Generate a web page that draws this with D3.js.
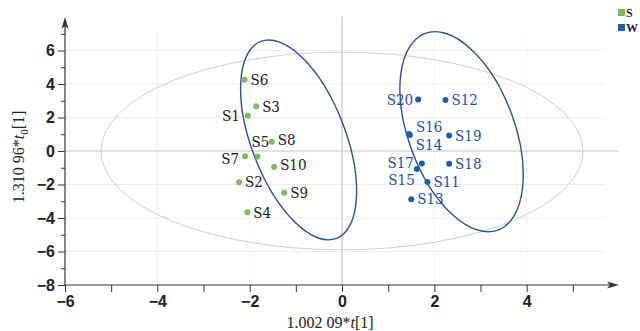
<!DOCTYPE html>
<html>
<head>
<meta charset="utf-8">
<script src="https://cdn.jsdelivr.net/npm/d3@7"></script>
<style>
  body { margin: 0; background: #fff; }
  svg { display: block; font-family: "Liberation Serif", "DejaVu Serif", serif; }
  .tick text { font-size: 16px; font-weight: bold; fill: #222; }
  .ptlabel { font-size: 15px; font-family: "DejaVu Serif Condensed", "DejaVu Serif", serif; }
</style>
</head>
<body>
<svg width="640" height="331"></svg>
<script>
// group S (green)
const sNames = ['S1', 'S2', 'S3', 'S4', 'S5', 'S6', 'S7', 'S8', 'S9', 'S10'];
const sX = [-2.04, -2.23, -1.86, -2.05, -1.83, -2.11, -2.10, -1.52, -1.25, -1.47];
const sY = [2.10, -1.86, 2.67, -3.66, -0.33, 4.26, -0.31, 0.55, -2.49, -0.96];

// group W (blue)
const wNames = ['S11', 'S12', 'S13', 'S14', 'S15', 'S16', 'S17', 'S18', 'S19', 'S20'];
const wX = [1.85, 2.24, 1.50, 1.47, 1.62, 1.45, 1.73, 2.32, 2.32, 1.65];
const wY = [-1.85, 3.04, -2.88, 0.95, -1.07, 1.01, -0.74, -0.76, 0.92, 3.08];

const xTicks = [-6, -4, -2, 0, 2, 4];
const xMinor = [-5, -3, -1, 1, 3, 5];
const yTicks = [-8, -6, -4, -2, 0, 2, 4, 6];
const yMinor = [-7, -5, -3, -1, 1, 3, 5, 7];

// ellipses: centre, semi axes (data units), tilt in degrees
const ellCx = [0, -0.94, 2.59];
const ellCy = [0, 0.66, 1.15];
const ellRx = [5.22, 1.02, 1.15];
const ellRy = [5.9, 6.3, 6.26];
const ellAngle = [0, -21, -20.3];

// label placement [dx, dy, anchor]
const labelPos = {
  S1: [-8, 0, 'end'], S5: [-6, -15, 'start'], S7: [-6, 3, 'end'], S8: [6, -2, 'start'],
  S10: [6, -2, 'start'], S20: [-5, 0, 'end'], S16: [7, -7, 'start'], S14: [6, 10, 'start'],
  S17: [-8, -1, 'end'], S15: [-2, 11, 'end']
};

const svg = d3.select('svg');
const x = d3.scaleLinear().domain([-6, 6]).range([65, 619]);
const y = d3.scaleLinear().domain([-8, 8]).range([285, 17]);

const green = '#7cbb5b', blue = '#1c5fa8', axisCol = '#333';

// grid
svg.append('g').selectAll('line').data(yTicks.filter(d => d !== 0 && d !== -8)).enter()
  .append('line')
  .attr('x1', x(-6)).attr('x2', x(5.7))
  .attr('y1', d => y(d)).attr('y2', d => y(d))
  .attr('stroke', '#eeeeee');
svg.append('g').selectAll('line').data([-4, -2, 2, 4]).enter()
  .append('line')
  .attr('x1', d => x(d)).attr('x2', d => x(d))
  .attr('y1', y(-8)).attr('y2', y(7.2))
  .attr('stroke', '#f1f1f1');

// zero lines
svg.append('line').attr('x1', x(-6)).attr('x2', x(6)).attr('y1', y(0)).attr('y2', y(0))
  .attr('stroke', '#c4c4c4').attr('stroke-width', 1.2);
svg.append('line').attr('x1', x(0)).attr('x2', x(0)).attr('y1', y(-8)).attr('y2', y(8))
  .attr('stroke', '#c4c4c4').attr('stroke-width', 1.2);

// ellipses
svg.append('g').selectAll('ellipse').data(ellCx).enter()
  .append('ellipse')
  .attr('cx', 0).attr('cy', 0)
  .attr('rx', (d, i) => x(ellRx[i]) - x(0))
  .attr('ry', (d, i) => y(0) - y(ellRy[i]))
  .attr('transform', (d, i) => `translate(${x(d)},${y(ellCy[i])}) rotate(${ellAngle[i]})`)
  .attr('fill', 'none')
  .attr('stroke', (d, i) => i === 0 ? '#cfcfcf' : '#2b5193')
  .attr('stroke-width', (d, i) => i === 0 ? 1 : 1.4);

// axes
svg.append('g').attr('transform', `translate(0,${y(-8)})`)
  .call(d3.axisBottom(x).tickValues(xTicks).tickSize(7).tickSizeOuter(0).tickPadding(4));
svg.append('g').attr('transform', `translate(0,${y(-8)})`)
  .call(d3.axisBottom(x).tickValues(xMinor).tickSize(7).tickSizeOuter(0).tickFormat(''));
svg.append('g').attr('transform', `translate(${x(-6)},0)`)
  .call(d3.axisLeft(y).tickValues(yTicks).tickSize(7).tickSizeOuter(0).tickPadding(3));
svg.append('g').attr('transform', `translate(${x(-6)},0)`)
  .call(d3.axisLeft(y).tickValues(yMinor).tickSize(4).tickSizeOuter(0).tickFormat(''));
svg.selectAll('.domain').remove();
svg.selectAll('.tick line').attr('stroke', axisCol);

svg.append('line').attr('x1', x(-6)).attr('x2', x(6) - 4).attr('y1', y(-8)).attr('y2', y(-8))
  .attr('stroke', axisCol).attr('stroke-width', 1.2);
svg.append('line').attr('x1', x(-6)).attr('x2', x(-6)).attr('y1', y(-8)).attr('y2', y(8) + 4)
  .attr('stroke', axisCol).attr('stroke-width', 1.2);
svg.append('path')
  .attr('d', `M${x(6)},${y(-8)} L${x(6) - 12},${y(-8) - 3.5} L${x(6) - 9},${y(-8)} L${x(6) - 12},${y(-8) + 3.5} Z`)
  .attr('fill', axisCol);
svg.append('path')
  .attr('d', `M${x(-6)},${y(8)} L${x(-6) - 3.5},${y(8) + 12} L${x(-6)},${y(8) + 9} L${x(-6) + 3.5},${y(8) + 12} Z`)
  .attr('fill', axisCol);

// axis titles
const xt = svg.append('text').attr('x', 330).attr('y', 328).attr('text-anchor', 'middle')
  .attr('font-size', 16).attr('fill', '#222');
xt.append('tspan').text('1.002 09*');
xt.append('tspan').attr('font-style', 'italic').text('t');
xt.append('tspan').text('[1]');

const yt = svg.append('text').attr('transform', 'translate(24,157) rotate(-90)')
  .attr('text-anchor', 'middle').attr('font-size', 16).attr('fill', '#222');
yt.append('tspan').text('1.310 96*');
yt.append('tspan').attr('font-style', 'italic').text('t');
yt.append('tspan').attr('font-size', 11).attr('dy', 4).text('0');
yt.append('tspan').attr('dy', -4).text('[1]');

// points
function drawGroup(names, xs, ys, col, textCol) {
  const data = names.map((n, i) => ({ name: n, x: xs[i], y: ys[i] }));
  const g = svg.append('g');
  g.selectAll('circle').data(data).enter().append('circle')
    .attr('cx', d => x(d.x)).attr('cy', d => y(d.y)).attr('r', 3)
    .attr('fill', col);
  g.selectAll('text').data(data).enter().append('text')
    .attr('class', 'ptlabel')
    .attr('x', d => x(d.x) + (labelPos[d.name] ? labelPos[d.name][0] : 6))
    .attr('y', d => y(d.y) + (labelPos[d.name] ? labelPos[d.name][1] : 0))
    .attr('dy', '0.35em')
    .attr('text-anchor', d => labelPos[d.name] ? labelPos[d.name][2] : 'start')
    .attr('fill', textCol)
    .text(d => d.name);
}
drawGroup(sNames, sX, sY, green, '#1a1a1a');
drawGroup(wNames, wX, wY, blue, '#1f4f9a');

// legend
const legend = svg.append('g').attr('transform', 'translate(618,9)');
[['S', green], ['W', blue]].forEach((d, i) => {
  legend.append('rect').attr('x', 0).attr('y', i * 15).attr('width', 7).attr('height', 7).attr('fill', d[1]);
  legend.append('text').attr('x', 8).attr('y', i * 15 + 8).attr('font-size', 12)
    .attr('font-weight', 'bold').attr('fill', '#222').text(d[0]);
});
</script>
</body>
</html>
